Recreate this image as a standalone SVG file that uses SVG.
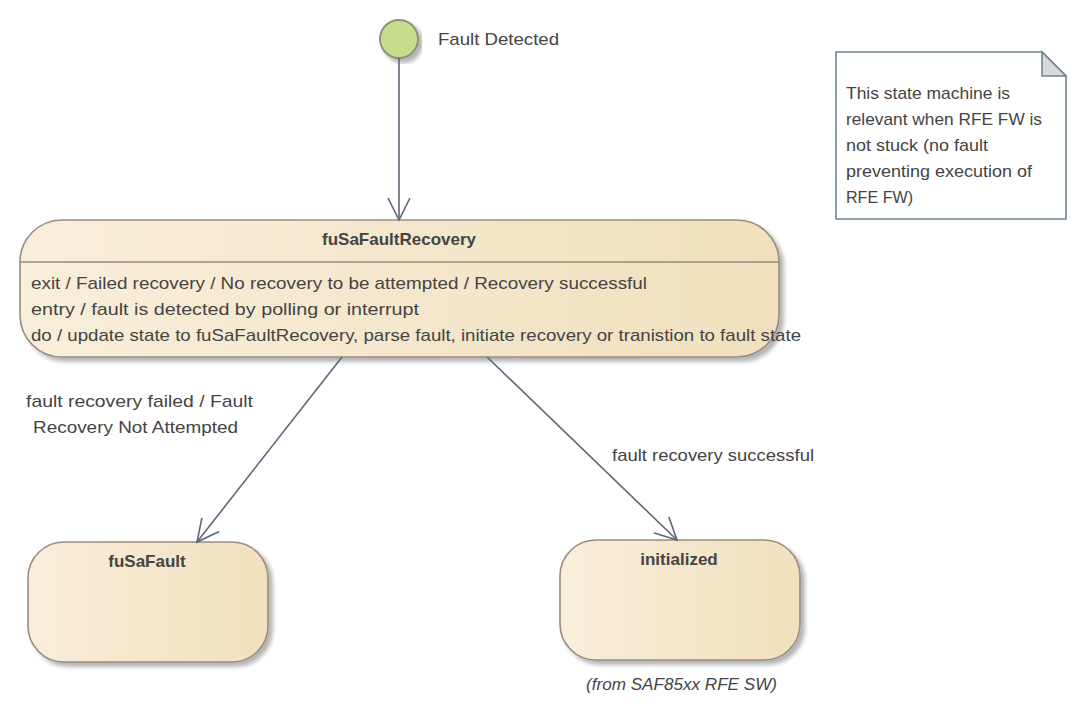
<svg xmlns="http://www.w3.org/2000/svg" width="1086" height="718" viewBox="0 0 1086 718">
<defs>
<linearGradient id="stateFill" x1="0" y1="0" x2="1" y2="0">
<stop offset="0" stop-color="#f9eedb"/>
<stop offset="1" stop-color="#f0e0bd"/>
</linearGradient>
<filter id="shadow" x="-5%" y="-5%" width="115%" height="120%">
<feGaussianBlur in="SourceAlpha" stdDeviation="2"/>
<feOffset dx="4" dy="4" result="b"/>
<feComponentTransfer><feFuncA type="linear" slope="0.3"/></feComponentTransfer>
<feMerge><feMergeNode/><feMergeNode in="SourceGraphic"/></feMerge>
</filter>
<marker id="open" viewBox="0 0 24 24" refX="22" refY="12" markerWidth="24" markerHeight="24" markerUnits="userSpaceOnUse" orient="auto">
<path d="M0,1 L22,12 L0,23" fill="none" stroke="#5f6677" stroke-width="1.6"/>
</marker>
</defs>
<style>
text{font-family:"Liberation Sans",Arial,sans-serif;fill:#444;}
.t{font-size:17px;}
.b{font-size:17px;font-weight:bold;}
.state{fill:url(#stateFill);stroke:#9a8b82;stroke-width:1.6;}
.conn{fill:none;stroke:#5f6677;stroke-width:1.6;}
</style>
<rect width="1086" height="718" fill="#ffffff"/>

<g id="initial">
<circle cx="399" cy="39" r="19" fill="#c6dd8e" stroke="#8f917a" stroke-width="2" filter="url(#shadow)"/>
<text class="t" x="438" y="45" textLength="121" lengthAdjust="spacingAndGlyphs">Fault Detected</text>
</g>

<g id="note">
<path d="M836,52 L1042,52 L1066,76 L1066,219 L836,219 Z" fill="#ffffff" stroke="#6e8793" stroke-width="1.6"/>
<path d="M1042,52 L1042,76 L1066,76 Z" fill="#d9d9d9" stroke="#6e8793" stroke-width="1.6"/>
<text class="t" x="846" y="99" textLength="164" lengthAdjust="spacingAndGlyphs">This state machine is</text>
<text class="t" x="846" y="125" textLength="196" lengthAdjust="spacingAndGlyphs">relevant when RFE FW is</text>
<text class="t" x="846" y="151" textLength="142" lengthAdjust="spacingAndGlyphs">not stuck (no fault</text>
<text class="t" x="846" y="177" textLength="186" lengthAdjust="spacingAndGlyphs">preventing execution of</text>
<text class="t" x="846" y="203" textLength="67" lengthAdjust="spacingAndGlyphs">RFE FW)</text>
</g>

<g id="fuSaFaultRecovery">
<rect class="state" x="20" y="220" width="759" height="137" rx="42" ry="42" filter="url(#shadow)"/>
<line x1="20" y1="262" x2="779" y2="262" stroke="#9a8b82" stroke-width="1.6"/>
<text class="b" x="399" y="245" text-anchor="middle">fuSaFaultRecovery</text>
<text class="t" x="31" y="289" textLength="616" lengthAdjust="spacingAndGlyphs">exit / Failed recovery / No recovery to be attempted / Recovery successful</text>
<text class="t" x="31" y="315" textLength="388" lengthAdjust="spacingAndGlyphs">entry / fault is detected by polling or interrupt</text>
<text class="t" x="31" y="341" textLength="770" lengthAdjust="spacingAndGlyphs">do / update state to fuSaFaultRecovery, parse fault, initiate recovery or tranistion to fault state</text>
</g>

<g id="fuSaFault">
<rect class="state" x="28" y="542" width="240" height="120" rx="36" ry="36" filter="url(#shadow)"/>
<text class="b" x="147" y="567" text-anchor="middle">fuSaFault</text>
</g>

<g id="initialized">
<rect class="state" x="560" y="540" width="240" height="120" rx="36" ry="36" filter="url(#shadow)"/>
<text class="b" x="679" y="565" text-anchor="middle">initialized</text>
<text class="t" x="586" y="690" font-style="italic" textLength="191" lengthAdjust="spacingAndGlyphs">(from SAF85xx RFE SW)</text>
</g>

<g id="connectors">
<line class="conn" x1="399" y1="58" x2="399" y2="220" marker-end="url(#open)"/>
<line class="conn" x1="342" y1="357" x2="197" y2="542" marker-end="url(#open)"/>
<line class="conn" x1="487" y1="357" x2="677" y2="540" marker-end="url(#open)"/>
<text class="t" x="26" y="407" textLength="227" lengthAdjust="spacingAndGlyphs">fault recovery failed / Fault</text>
<text class="t" x="33" y="433" textLength="205" lengthAdjust="spacingAndGlyphs">Recovery Not Attempted</text>
<text class="t" x="612" y="461" textLength="202" lengthAdjust="spacingAndGlyphs">fault recovery successful</text>
</g>
</svg>
